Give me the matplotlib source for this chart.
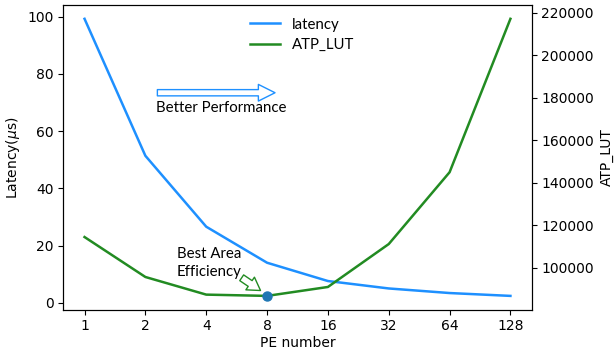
import matplotlib
matplotlib.use("Agg")
import matplotlib.pyplot as plt

pe_labels = ["1", "2", "4", "8", "16", "32", "64", "128"]
latency = [99.3, 51.4, 26.6, 14.0, 7.6, 5.0, 3.4, 2.4]
atp_lut = [114500, 95700, 87400, 86800, 91000, 111200, 145000, 217200]
best_idx = 3

fig, ax = plt.subplots(figsize=(6.14, 3.54), dpi=100)
fig.subplots_adjust(left=0.103, right=0.866, top=0.986, bottom=0.125)
x = list(range(len(pe_labels)))
l1, = ax.plot(x, latency, color="#1E90FF", lw=1.8, label="latency")
ax.set_xticks(x)
ax.set_xticklabels(pe_labels)
ax.set_xlabel("PE number", labelpad=2)
ax.set_ylabel(r"Latency($\mu$s)")
ax2 = ax.twinx()
l2, = ax2.plot(x, atp_lut, color="#228B22", lw=1.8, label="ATP_LUT")
ax2.plot([x[best_idx]], [atp_lut[best_idx]], "o", color="#1f77b4", ms=6.5, zorder=5)
ax2.set_ylabel("ATP_LUT")

fam = ["Lato", "DejaVu Sans"]
annfont = dict(family=fam, size=10.8)
ax.legend(handles=[l1, l2], loc="upper center", frameon=False,
          prop=dict(family=fam, size=10.8),
          bbox_to_anchor=(0.51, 1.003), labelspacing=0.45, handlelength=2.0)

# Better performance arrow
ax.annotate("", xy=(0.458, 0.712), xycoords="axes fraction",
            xytext=(0.195, 0.712), textcoords="axes fraction",
            arrowprops=dict(arrowstyle="simple,head_length=1.2,head_width=1.2,tail_width=0.45",
                            facecolor="white", edgecolor="#1E90FF", lw=1))
ax.text(0.198, 0.65, "Better Performance", transform=ax.transAxes, **annfont)

# Best area efficiency
ax2.text(0.242, 0.11, "Best Area\nEfficiency", transform=ax.transAxes,
         linespacing=1.35, **annfont)
ax2.annotate("", xy=(0.426, 0.058), xycoords="axes fraction",
             xytext=(0.376, 0.11), textcoords="axes fraction",
             arrowprops=dict(arrowstyle="simple,head_length=0.9,head_width=1.1,tail_width=0.5",
                             facecolor="white", edgecolor="#228B22", lw=1))

fig.savefig("out.png", dpi=100)
